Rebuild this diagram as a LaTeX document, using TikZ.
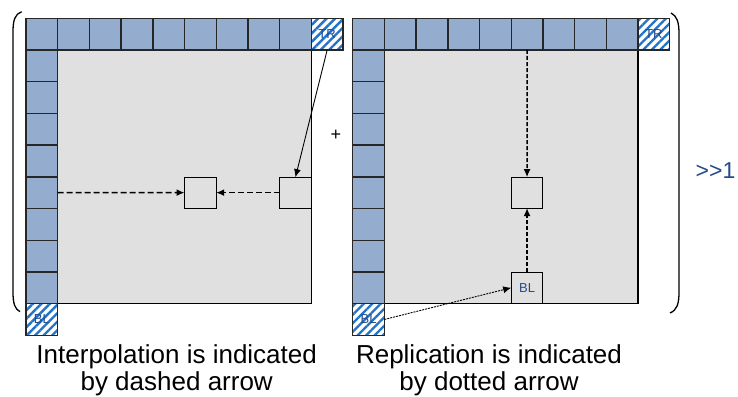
\documentclass[tikz,border=0pt]{standalone}
\usepackage{fontspec}
\setmainfont{Liberation Sans}
\usetikzlibrary{arrows.meta,patterns.meta}
\definecolor{cellblue}{RGB}{148,173,207}
\definecolor{blockgrey}{RGB}{224,224,224}
\definecolor{hatchblue}{RGB}{35,115,200}
\definecolor{labelblue}{RGB}{35,75,140}
\tikzset{
  cell/.style={draw=black!85, line width=1.4pt, fill=cellblue,
    minimum width=31.7pt, minimum height=31.7pt, inner sep=0pt, outer sep=0pt},
  hatched/.style={cell, fill=white, pattern={Lines[angle=45,distance=6pt,line width=2.4pt]},
    pattern color=hatchblue, text=labelblue, font=\fontsize{13}{13}\selectfont},
  block/.style={draw=black, line width=1.1pt, fill=blockgrey},
  box/.style={draw=black, line width=1.1pt, fill=blockgrey, minimum width=31.7pt,
    minimum height=31pt, inner sep=0pt, outer sep=0pt, text=labelblue,
    font=\fontsize{13}{13}\selectfont},
  tip/.style={-{Latex[length=8pt,width=7pt]}},
  interp/.style={tip, line width=1.4pt, dash pattern=on 6pt off 3pt},
  repl/.style={tip, line width=1.4pt, dash pattern=on 4pt off 2pt},
  link/.style={tip, line width=0.9pt},
  caption/.style={align=center, anchor=base, font=\fontsize{26}{27}\selectfont}
}
\begin{document}
\begin{tikzpicture}[x=1pt,y=-1pt]
  \useasboundingbox (0,0) rectangle (738,396);
  % left grid
  \begin{scope}[shift={(26,18.3)}]
    \draw[block] (31.7,31.7) rectangle (285.3,285.3);
    \foreach \i in {0,...,8}
      \node[cell] (lt\i) at (\i*31.7+15.85,15.85) {};
    \foreach \j in {1,...,8}
      \node[cell] (ll\j) at (15.85,\j*31.7+15.85) {};
    \node[hatched] (ltr) at (301.15,15.85) {TR};
    \node[hatched] (lbl) at (15.85,301.15) {BL};
    \node[box] (lc) at (174.35,174.35) {};
    \node[box] (ls) at (269.45,174.35) {};
  \end{scope}
  % right grid
  \begin{scope}[shift={(352.7,18.3)}]
    \draw[block] (31.7,31.7) rectangle (285.3,285.3);
    \foreach \i in {0,...,8}
      \node[cell] (rt\i) at (\i*31.7+15.85,15.85) {};
    \foreach \j in {1,...,8}
      \node[cell] (rl\j) at (15.85,\j*31.7+15.85) {};
    \node[hatched] (rtr) at (301.15,15.85) {TR};
    \node[hatched] (rbl) at (15.85,301.15) {BL};
    \node[box] (rc) at (174.35,174.35) {};
    \node[box] (rb) at (174.35,269.45) {BL};
  \end{scope}
  % arrows
  \draw[interp] (ll5) -- (lc);
  \draw[interp] (ls) -- (lc);
  \draw[link] (ltr.south) -- (ls.north);
  \draw[repl] (rt5.south) -- (rc.north);
  \draw[repl] (rb) -- (rc);
  \draw[link, dash pattern=on 2pt off 1pt] (rbl.east) -- (rb.west);
  % brackets
  \draw[line width=1.3pt] (21.7,11.7) .. controls (15,14) and (13,20) .. (13,32)
    -- (13,292) .. controls (13,304) and (15,309) .. (20,311.7);
  \draw[line width=1.3pt] (671,13) .. controls (677,16) and (679,22) .. (679,34)
    -- (679,292) .. controls (679,304) and (677,310) .. (670,313);
  \node[font=\fontsize{18}{18}\selectfont] (plus) at (336,135.5) {+};
  \node[text=labelblue, font=\fontsize{23}{23}\selectfont] (shift) at (715.5,170.5) {>{}>1};
  % captions
  \node[caption] (lcap) at (176.7,390) {Interpolation is indicated\\by dashed arrow};
  \node[caption] (rcap) at (489,390) {Replication is indicated\\by dotted arrow};
\end{tikzpicture}
\end{document}
